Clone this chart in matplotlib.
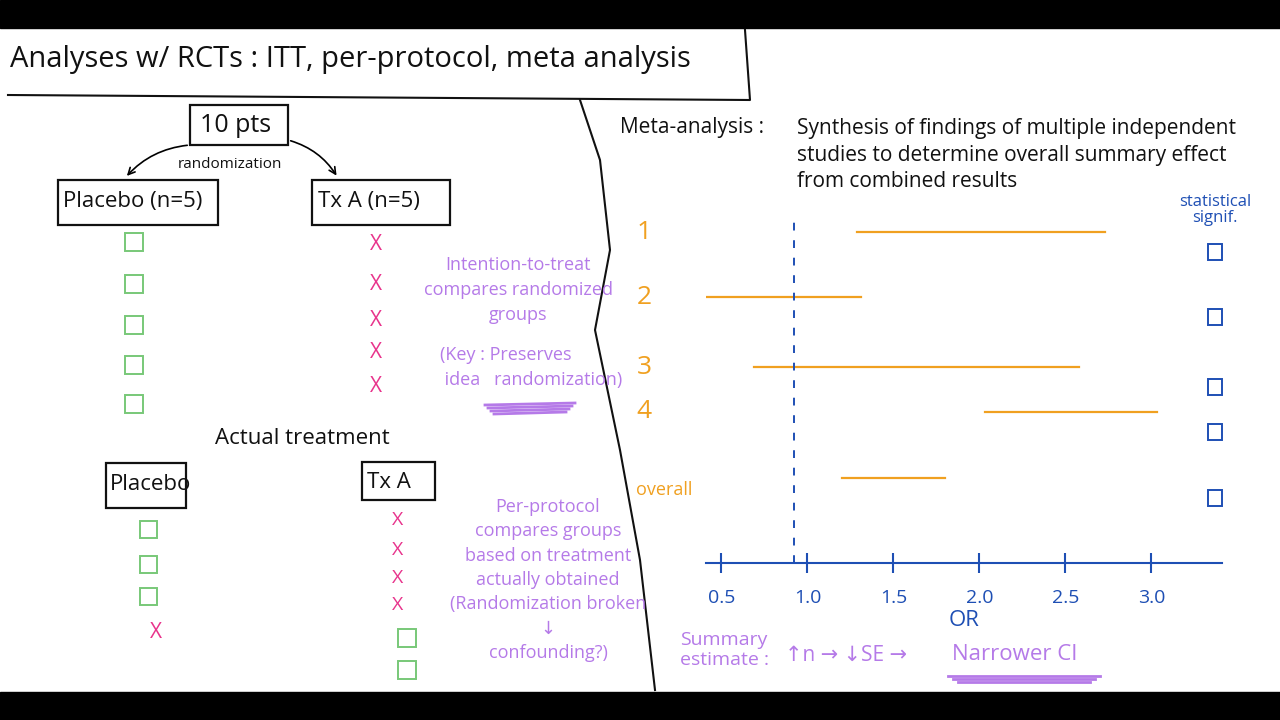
import matplotlib
matplotlib.use("Agg")
import matplotlib.pyplot as plt
from matplotlib.patches import Rectangle, FancyArrowPatch

studies = ["1", "2", "3", "4", "overall"]
ci_low = [1.29, 0.41, 0.69, 2.03, 1.20]
ci_high = [2.73, 1.31, 2.58, 3.03, 1.80]
null_line = 0.92
or_ticks = [0.5, 1.0, 1.5, 2.0, 2.5, 3.0]
or_ticklabels = ["0.5", "1.0", "1.5", "2.0", "2.5", "3.0"]

ORANGE = "#F0A020"; PURPLE = "#B57AE8"; BLUE = "#1E4FB4"
GREEN = "#78C878"; MAGENTA = "#E8348C"; BLACK = "#111111"
FONT = ["Open Sans", "DejaVu Sans"]

fig = plt.figure(figsize=(12.8, 7.2), dpi=100)
fig.patch.set_facecolor("white")
ov = fig.add_axes([0, 0, 1, 1]); ov.set_xlim(0, 1280); ov.set_ylim(720, 0); ov.axis("off")
ov.add_patch(Rectangle((0, 0), 1280, 28, color="black"))
ov.add_patch(Rectangle((0, 692), 1280, 28, color="black"))

def t(x, y, s, c=BLACK, fs=14, **kw):
    ov.text(x, y, s, color=c, fontsize=fs, family=FONT, va="center", **kw)

def box(x0, y0, x1, y1, c=BLACK):
    ov.add_patch(Rectangle((x0, y0), x1 - x0, y1 - y0, fill=False, ec=c, lw=1.6))

# Title
t(10, 60, "Analyses w/ RCTs : ITT, per-protocol, meta analysis", fs=21)
ov.plot([8, 750, 745], [95, 100, 30], color=BLACK, lw=1.5)
# divider
ov.plot([580, 600, 610, 595, 620, 640, 655], [100, 160, 250, 330, 450, 560, 690], color=BLACK, lw=1.5)

# left tree
t(200, 126, "10 pts", fs=18); box(190, 105, 288, 145)
t(178, 165, "randomization", fs=11)
ov.add_artist(FancyArrowPatch((190, 145), (125, 178), arrowstyle="->", connectionstyle="arc3,rad=0.2", mutation_scale=12, lw=1.2))
ov.add_artist(FancyArrowPatch((288, 140), (338, 178), arrowstyle="->", connectionstyle="arc3,rad=-0.2", mutation_scale=12, lw=1.2))
t(63, 201, "Placebo (n=5)", fs=16); box(58, 180, 218, 225)
t(318, 201, "Tx A (n=5)", fs=16); box(312, 180, 450, 225)
for y in [243, 285, 326, 366, 405]:
    ov.add_patch(Rectangle((125, y - 10), 18, 18, fill=False, ec=GREEN, lw=1.4))
for y in [245, 285, 320, 352, 386]:
    t(370, y, "X", c=MAGENTA, fs=15)
t(215, 438, "Actual treatment", fs=16)
t(110, 485, "Placebo", fs=16); box(106, 463, 186, 508)
t(367, 482, "Tx A", fs=16); box(362, 462, 435, 500)
for y in [530, 565, 597]:
    ov.add_patch(Rectangle((140, y - 9), 17, 17, fill=False, ec=GREEN, lw=1.4))
t(150, 632, "X", c=MAGENTA, fs=15)
for y in [520, 550, 578, 605]:
    t(392, y, "X", c=MAGENTA, fs=14)
for y in [638, 670]:
    ov.add_patch(Rectangle((398, y - 9), 18, 18, fill=False, ec=GREEN, lw=1.4))

# purple notes
t(518, 290, "Intention-to-treat\ncompares randomized\ngroups", c=PURPLE, fs=13, ha="center", linespacing=1.5)
t(440, 368, "(Key : Preserves\n idea   randomization)", c=PURPLE, fs=13, linespacing=1.5)
for i in range(4):
    ov.plot([485 + i*3, 575 - i*3], [405 + i*3, 403 + i*3], color=PURPLE, lw=2)
t(548, 580, "Per-protocol\ncompares groups\nbased on treatment\nactually obtained\n(Randomization broken\n↓\nconfounding?)", c=PURPLE, fs=13, ha="center", linespacing=1.45)
t(680, 650, "Summary\nestimate :", c=PURPLE, fs=14, linespacing=1.2)
t(785, 655, "↑n → ↓SE →", c=PURPLE, fs=15)
t(952, 655, "Narrower CI", c=PURPLE, fs=16)
for i in range(3):
    ov.plot([948 + i*5, 1100 - i*5], [676 + i*3, 676 + i*3], color=PURPLE, lw=2)

# meta text
t(620, 127, "Meta-analysis :", fs=15)
t(797, 155, "Synthesis of findings of multiple independent\nstudies to determine overall summary effect\nfrom combined results", fs=15, linespacing=1.35)
t(1215, 210, "statistical\nsignif.", c=BLUE, fs=12, ha="center", linespacing=1.0)

# forest axes (x 706-1222 px, y 215-563 px)
row_y = [232, 297, 367, 412, 478]
ax = fig.add_axes([706/1280, 1 - 563/720, 516/1280, 348/720])
ax.set_xlim(0.41, 3.41); ax.set_ylim(563, 215)
ax.patch.set_alpha(0)
for lo, hi, y in zip(ci_low, ci_high, row_y):
    ax.plot([lo, hi], [y, y], color=ORANGE, lw=1.6)
ax.axvline(null_line, color=BLUE, ls=(0, (4, 5)), lw=1.4)
for s in ["top", "left", "right"]:
    ax.spines[s].set_visible(False)
ax.spines["bottom"].set_color(BLUE); ax.spines["bottom"].set_linewidth(1.5)
ax.set_yticks([])
ax.set_xticks(or_ticks, or_ticklabels, fontsize=14, family=FONT, color=BLUE)
ax.tick_params(axis="x", colors=BLUE, direction="inout", length=14, width=1.5, pad=12)
ax.set_xlabel("OR", fontsize=16, family=FONT, color=BLUE, labelpad=2)
for s, y in zip(studies, row_y):
    big = s != "overall"
    ax.text(-0.135, y + (0 if big else 12), s, transform=ax.get_yaxis_transform(),
            color=ORANGE, fontsize=19 if big else 13, family=FONT, va="center", ha="left")
    ax.add_patch(Rectangle((3.33, y + 20 - 8), 0.08, 16, transform=ax.transData, fill=False, ec=BLUE, lw=1.4, clip_on=False))

fig.savefig("out.png", dpi=100)
